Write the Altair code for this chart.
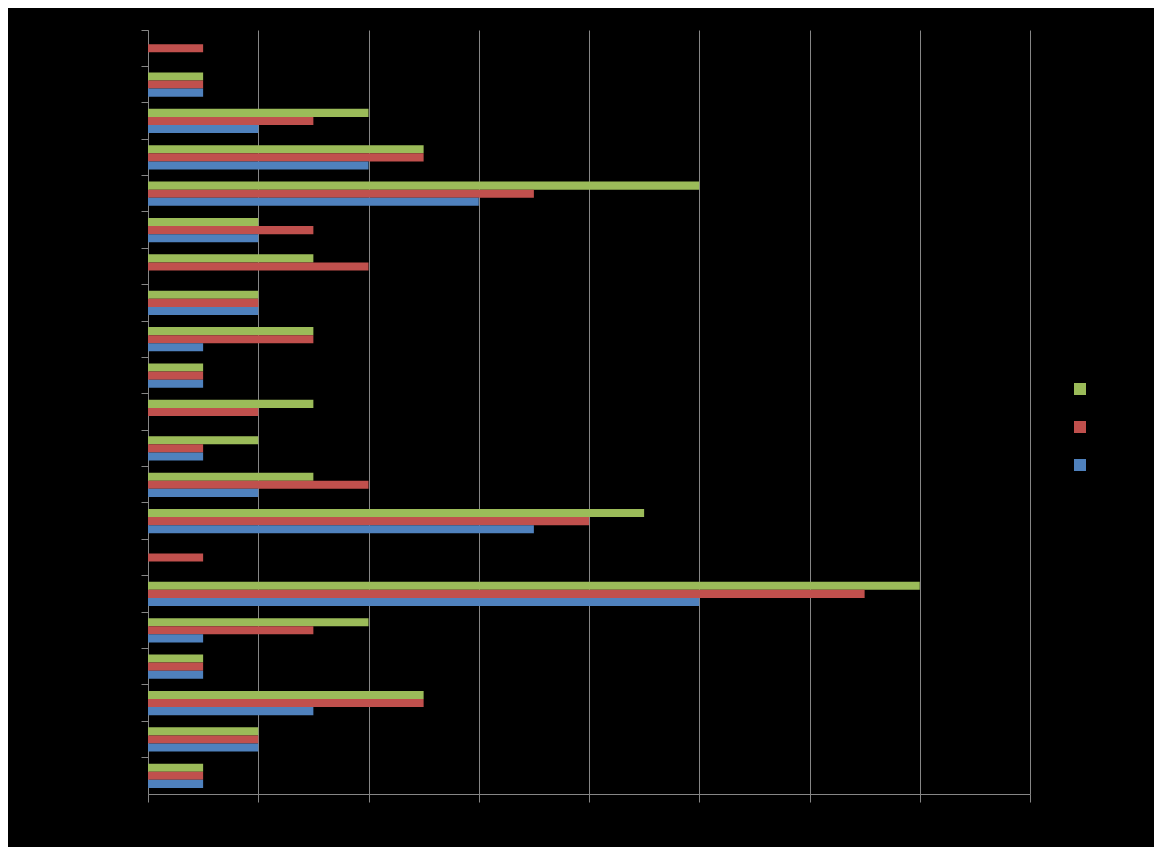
import altair as alt
import pandas as pd

categories = [f"Category {i}" for i in range(1, 22)]
series_names = ["Series 3", "Series 2", "Series 1"]  # green, red, blue (top to bottom)
colors = ["#9BBB59", "#C0504D", "#4F81BD"]

green = [0, 1, 4, 5, 10, 2, 3, 2, 3, 1, 3, 2, 3, 9, 0, 14, 4, 1, 5, 2, 1]
red   = [1, 1, 3, 5, 7, 3, 4, 2, 3, 1, 2, 1, 4, 8, 1, 13, 3, 1, 5, 2, 1]
blue  = [0, 1, 2, 4, 6, 2, 0, 2, 1, 1, 0, 1, 2, 7, 0, 10, 1, 1, 3, 2, 1]

rows = []
for i, c in enumerate(categories):
    for s, vals in zip(series_names, [green, red, blue]):
        rows.append({"category": c, "series": s, "value": vals[i]})
df = pd.DataFrame(rows)

grid = "#868686"

chart = alt.Chart(df).mark_bar().encode(
    y=alt.Y("category:N", sort=categories,
            scale=alt.Scale(paddingInner=0, paddingOuter=0),
            axis=alt.Axis(title=None, labelColor="black", bandPosition=0,
                          domainColor=grid, tickColor=grid, tickSize=7, grid=False)),
    yOffset=alt.YOffset("series:N", sort=series_names,
                        scale=alt.Scale(paddingInner=0, paddingOuter=0.75)),
    x=alt.X("value:Q", scale=alt.Scale(domain=[0, 16], nice=False),
            axis=alt.Axis(title=None, values=list(range(0, 17, 2)), labelColor="black",
                          domainColor=grid, tickColor=grid, tickSize=8,
                          grid=True, gridColor=grid, gridWidth=1)),
    color=alt.Color("series:N", sort=series_names,
                    scale=alt.Scale(domain=series_names, range=colors),
                    legend=alt.Legend(title=None, orient="none", legendX=926, legendY=353,
                                      symbolType="square", symbolSize=144,
                                      symbolStrokeWidth=0, labelColor="black",
                                      labelFontSize=12, rowPadding=26)),
).properties(
    width=882, height=764,
    autosize=alt.AutoSizeParams(type="none"),
    padding={"left": 140, "top": 22, "right": 124, "bottom": 53},
    background="black",
).configure_view(stroke=None)

chart.save("out.html", embed_options={"renderer": "svg", "actions": False})
